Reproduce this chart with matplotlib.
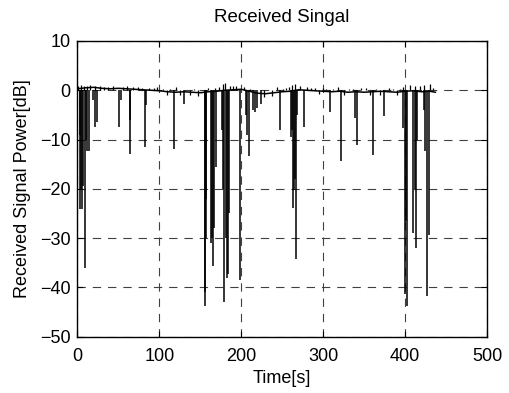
import matplotlib
matplotlib.use("Agg")
from matplotlib import pyplot as plt

plt.rcParams['font.family'] = ['Liberation Sans', 'DejaVu Sans']
plt.rcParams['lines.scale_dashes'] = False

# nivel base de la senal (cada 10 s), en dB
t_base = [0, 10, 20, 30, 40, 50, 60, 70, 80, 90, 100, 110, 120, 130, 140, 150,
          160, 170, 180, 190, 200, 210, 220, 230, 240, 250, 260, 270, 280, 290,
          300, 310, 320, 330, 340, 350, 360, 370, 380, 390, 400, 410, 420, 430, 437]
v_base = [0.3, 0.5, 0.6, 0.4, 0.3, 0.4, 0.3, 0.2, 0.1, 0.0, -0.1, -0.3, -0.4, -0.3,
          -0.4, -0.5, -0.3, -0.2, 0.0, 0.1, 0.2, -0.2, -0.6, -0.7, -0.5, -0.3, -0.2,
          0.1, 0.0, -0.1, -0.2, -0.3, -0.2, -0.4, -0.3, -0.4, -0.3, -0.2, -0.3, -0.4,
          -0.2, -0.1, -0.3, -0.2, -0.4]

# desvanecimientos: tiempo [s] y profundidad [dB]
t_fade = [2.7, 3.5, 4.5, 6.0, 7.5, 9.4, 10.5, 11.5, 13.7, 18.9, 21.0, 24.6,
          50.6, 53.8, 63.8, 64.7, 82.5, 83.3, 117.5, 130.5,
          155.3, 156.0, 156.6, 157.2, 163.5, 164.5, 165.5, 166.5, 169.5,
          176.0, 178.0, 179.5, 181.0, 182.5, 183.5, 184.5, 198.7,
          205.5, 207.0, 209.0, 214.0, 216.6, 219.8, 224.6, 247.6,
          261.0, 262.0, 263.4, 264.5, 265.5, 267.4, 268.5, 276.3, 307.9, 322.0,
          339.0, 341.0, 361.3, 374.6, 397.7, 399.7, 401.0, 402.5, 409.8, 411.5,
          413.0, 415.0, 423.0, 424.0, 426.8, 429.2]
v_fade = [-9, -24, -20, -24, -19.5, -36, -10, -12.4, -12.4, -2, -7.4, -6.4,
          -7.4, -2, -6, -13, -11.5, -3, -12, -2.7,
          -43.8, -41, -30, -22, -31, -30, -35.7, -28, -15.5,
          -8, -20, -43, -30, -38, -37.3, -25, -38.4,
          -5, -9, -13.4, -4, -4.5, -3.5, -2.7, -8,
          -9.4, -8, -23.9, -20.2, -18, -34.3, -5, -7.4, -4.5, -14.3,
          -5.6, -11.2, -13.1, -5.2, -7.7, -41.4, -26.6, -43.7, -28.9, -20,
          -32, -10, -4, -12.4, -41.7, -29.3]

# ruido pequeño alrededor del nivel base (picos arriba/abajo)
t_pico = [1, 5, 8, 12, 16, 22, 28, 33, 38, 44, 56, 61, 68, 74, 79, 88, 93, 97,
          104, 109, 113, 120, 125, 134, 138, 143, 147, 152, 160, 168, 173, 178,
          180.5, 186, 190, 194, 203, 211, 228, 233, 238, 244, 251, 255, 258,
          262, 266, 272, 280, 285, 290, 295, 300, 304, 312, 318, 326, 331, 336,
          346, 352, 357, 365, 369, 380, 385, 390, 394, 398, 406, 412, 418, 423,
          430, 434]
v_pico = [0.9, 1.0, 0.8, 0.9, 1.0, 0.9, 0.8, 0.7, 0.6, 0.8, 0.7, 0.8, 0.6, 0.7,
          0.5, 0.5, 0.4, 0.6, 0.3, -0.9, 0.2, 0.6, -0.9, 0.1, -1.0, 0.2, -1.1,
          0.1, 0.4, 0.5, 0.7, 1.2, 1.5, 0.9, 0.8, 0.9, 0.7, 0.3, -1.3, 0.0, -1.2,
          0.6, 0.2, 0.4, 0.6, 1.0, 1.2, 0.8, 0.6, 0.4, 0.5, -0.8, 0.5, 0.3, 0.2,
          0.6, -0.9, 0.3, 0.2, 0.4, 0.5, -0.9, 0.3, -0.9, 0.4, 0.3, -0.9, 0.3,
          0.7, 1.0, 0.9, 0.8, 1.0, 1.2, 0.5]

fig = plt.figure(figsize=(5.10, 3.93), dpi=100)
ax = fig.add_axes([0.1516, 0.1433, 0.8034, 0.7524])

ax.plot(t_base, v_base, color='black', linewidth=1.1)
ax.vlines(t_fade, 0, v_fade, color='black', linewidth=1.1)
ax.vlines(t_pico, 0, v_pico, color='black', linewidth=0.9)

ax.set_xlim(0, 500)
ax.set_ylim(-50, 10)
ax.set_xticks([0, 100, 200, 300, 400, 500])
ax.set_yticks([-50, -40, -30, -20, -10, 0, 10])
ax.grid(True, color='#404040', linestyle=(0, (6, 5)), linewidth=0.8)
ax.tick_params(direction='in', length=4, width=0.8, labelsize=13,
               top=True, right=True)
ax.tick_params(axis='x', pad=8)
ax.tick_params(axis='y', pad=5)
for s in ax.spines.values():
    s.set_linewidth(1.0)

ax.set_title("Received Singal", fontsize=13.5, pad=14)
ax.set_xlabel("Time[s]", fontsize=13, labelpad=4)
ax.set_ylabel("Received Signal Power[dB]", fontsize=13, labelpad=6)

plt.savefig('out.png', dpi=100)
plt.close()
